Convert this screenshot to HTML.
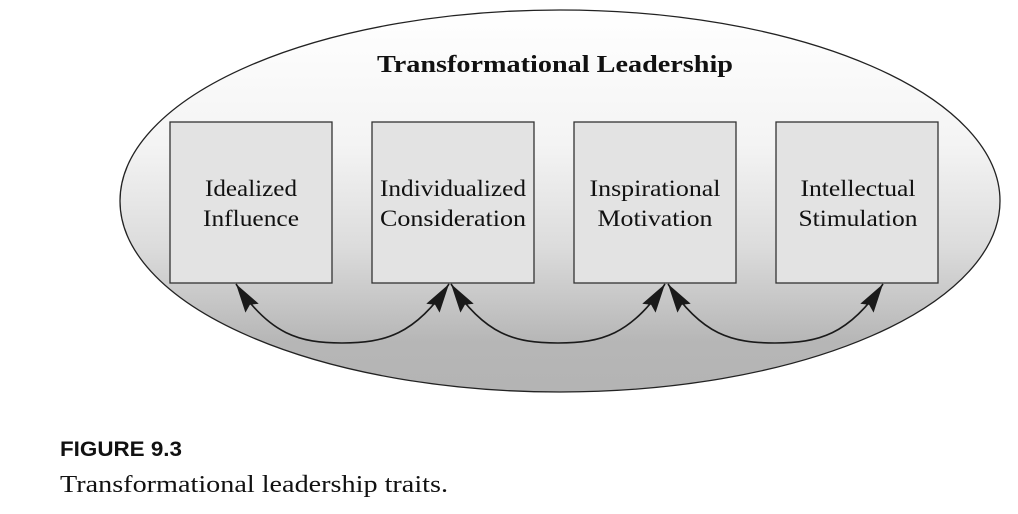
<!DOCTYPE html>
<html><head><meta charset="utf-8"><style>
html,body{margin:0;padding:0;background:#fff;width:1018px;height:514px;overflow:hidden}
</style></head><body>
<svg width="1018" height="514" viewBox="0 0 1018 514" xmlns="http://www.w3.org/2000/svg">
<defs>
<linearGradient id="g" x1="0" y1="0" x2="0" y2="1">
<stop offset="0" stop-color="#ffffff"/>
<stop offset="0.35" stop-color="#f4f4f4"/>
<stop offset="0.62" stop-color="#dcdcdc"/>
<stop offset="0.87" stop-color="#b6b6b6"/>
<stop offset="1" stop-color="#b4b4b4"/>
</linearGradient>
<marker id="ah" markerWidth="30" markerHeight="20" refX="29" refY="9" orient="auto-start-reverse" markerUnits="userSpaceOnUse">
<path d="M0,1 L29,9 L0,17 L4,9 Z" fill="#1a1a1a"/>
</marker>
</defs>
<ellipse cx="560" cy="201" rx="440" ry="191" fill="url(#g)" stroke="#222" stroke-width="1.3"/>
<g fill="#e3e3e3" stroke="#333" stroke-width="1.3">
<rect x="170" y="122" width="162" height="161"/>
<rect x="372" y="122" width="162" height="161"/>
<rect x="574" y="122" width="162" height="161"/>
<rect x="776" y="122" width="162" height="161"/>
</g>
<g fill="none" stroke="#1a1a1a" stroke-width="1.6" marker-start="url(#ah)" marker-end="url(#ah)">
<path d="M236,284 C270,335 300,343 342,343 C384,343 415,335 449,284"/>
<path d="M451,284 C485,335 515,343 558,343 C601,343 631,335 665,284"/>
<path d="M668,284 C702,335 732,343 775,343 C818,343 849,335 883,284"/>
</g>
<text x="555" y="72" text-anchor="middle" font-family="Liberation Serif, serif" font-weight="bold" font-size="24" fill="#111" textLength="356" lengthAdjust="spacingAndGlyphs">Transformational Leadership</text>
<g font-family="Liberation Serif, serif" font-size="23" fill="#111" text-anchor="middle">
<text x="251" y="196" textLength="92" lengthAdjust="spacingAndGlyphs">Idealized</text><text x="251" y="226" textLength="96" lengthAdjust="spacingAndGlyphs">Influence</text>
<text x="453" y="196" textLength="146" lengthAdjust="spacingAndGlyphs">Individualized</text><text x="453" y="226" textLength="146" lengthAdjust="spacingAndGlyphs">Consideration</text>
<text x="655" y="196" textLength="131" lengthAdjust="spacingAndGlyphs">Inspirational</text><text x="655" y="226" textLength="115" lengthAdjust="spacingAndGlyphs">Motivation</text>
<text x="858" y="196" textLength="115" lengthAdjust="spacingAndGlyphs">Intellectual</text><text x="858" y="226" textLength="119" lengthAdjust="spacingAndGlyphs">Stimulation</text>
</g>
<text x="60" y="456" font-family="Liberation Sans, sans-serif" font-weight="bold" font-size="21" fill="#111" textLength="122" lengthAdjust="spacingAndGlyphs">FIGURE 9.3</text>
<text x="60" y="492" font-family="Liberation Serif, serif" font-size="24" fill="#111" textLength="388" lengthAdjust="spacingAndGlyphs">Transformational leadership traits.</text>
</svg>
</body></html>
